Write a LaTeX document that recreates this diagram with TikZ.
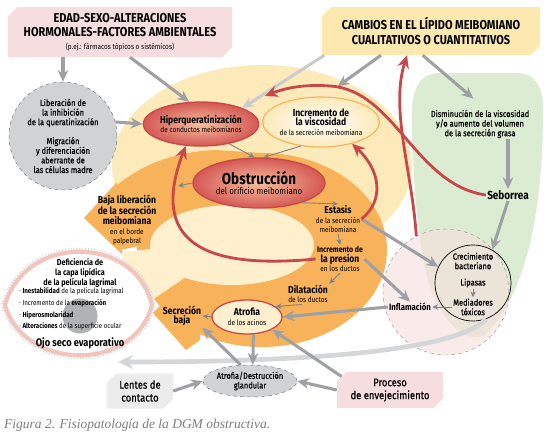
\documentclass[tikz,border=0pt]{standalone}
\usepackage{fontspec}
\setmainfont{Fira Sans}[FakeStretch=0.85]
\newfontfamily\medfont{Fira Sans}[FakeStretch=0.85,FakeBold=0.6]
\newfontfamily\capfont{Liberation Serif}
\usepackage{tikz}
\usetikzlibrary{arrows.meta,positioning,shapes.geometric,shapes.misc}

\definecolor{pinkbox}{RGB}{246,221,224}
\definecolor{yelbox}{RGB}{253,233,176}
\definecolor{paleyel}{RGB}{253,234,186}
\definecolor{innyel}{RGB}{254,240,204}
\definecolor{orng}{RGB}{247,178,90}
\definecolor{redln}{RGB}{200,72,74}
\definecolor{redout}{RGB}{212,88,84}
\definecolor{redin}{RGB}{246,192,158}
\definecolor{grayarr}{RGB}{158,160,164}
\definecolor{smallgray}{RGB}{125,132,140}
\definecolor{lightarr}{RGB}{212,214,216}
\definecolor{greenbg}{RGB}{220,236,211}
\definecolor{pinkbg}{RGB}{248,222,222}
\definecolor{graybg}{RGB}{208,210,212}
\definecolor{graybox}{RGB}{236,236,237}
\definecolor{eyepink}{RGB}{241,196,190}
\definecolor{pupilgray}{RGB}{176,178,181}
\definecolor{capgray}{RGB}{125,125,125}

% text sizes
\newcommand{\lbB}[1]{{\fontsize{8.6}{9}\selectfont\bfseries #1}}
\newcommand{\lbS}[1]{{\fontsize{6.5}{7}\selectfont #1}}
\newcommand{\lbL}[1]{{\fontsize{13.5}{14}\selectfont\bfseries #1}}
\newcommand{\lbM}[1]{{\fontsize{7}{7.5}\selectfont\bfseries #1}}
\newcommand{\lbE}[1]{{\fontsize{7.3}{8}\selectfont\bfseries #1}}
\newcommand{\lbC}[1]{{\fontsize{9.5}{10}\selectfont\medfont #1}}
\newcommand{\md}[1]{{\fontsize{7.5}{8}\selectfont\medfont #1}}
\newcommand{\hd}[1]{{\fontsize{11}{12}\selectfont\bfseries #1}}

\tikzset{
    %Define standard arrow tip
    >={Stealth[length=7pt,width=6pt]},
    % boxes with cut corners
    kasten/.style={
           chamfered rectangle,
           chamfered rectangle corners={north west,south east},
           chamfered rectangle xsep=4pt, chamfered rectangle ysep=4pt,
           inner sep=0pt, align=center},
    lbl/.style={inner sep=1pt, align=center},
    % ovals
    redoval/.style={ellipse, draw=redln, line width=1.1pt, inner color=redin, outer color=redout, inner sep=0pt, align=center},
    viscoval/.style={ellipse, draw=orng, line width=1pt, inner color=white, outer color=paleyel, inner sep=0pt, align=center},
    acioval/.style={ellipse, draw=redln, line width=1.1pt, fill=paleyel!70, inner sep=0pt, align=center},
    % arrows
    garr/.style={draw=grayarr, line width=2.6pt, -{Stealth[length=10pt,width=9pt]}},
    sarr/.style={draw=smallgray, line width=0.8pt, -{Stealth[length=5pt,width=4.5pt]}},
    rarr/.style={draw=redln, line width=2.4pt, -{Stealth[length=11pt,width=10pt]}},
    lgarr/.style={draw=lightarr, line width=4pt, -{Stealth[length=13pt,width=12pt]}},
    lashes/.style={draw=gray!28, line width=7pt, dash pattern=on 0.8pt off 1.6pt},
    eyelid/.style={draw=eyepink, line width=3.5pt}
}

\begin{document}
\begin{tikzpicture}[x=0.03cm,y=-0.03cm,font=\fontsize{7}{8.2}\selectfont]
  \useasboundingbox (0,0) rectangle (547,439);
  \fill[white] (0,0) rectangle (547,439);

  % background areas
  \fill[paleyel] (262,165) ellipse [x radius=150, y radius=100];
  \fill[greenbg] (440,73) -- (515,73) .. controls (535,73) and (543,85) .. (543,110)
     .. controls (543,200) and (530,290) .. (485,335) .. controls (465,345) and (440,320) .. (428,280)
     .. controls (418,240) and (412,180) .. (412,115) .. controls (412,88) and (420,73) .. (440,73) -- cycle;
  \node[circle, draw=gray!80, dashed, fill=pinkbg, fill opacity=0.6, minimum size=3.78cm] (inflcirc) at (446,292) {};

  % orange spiral
  \fill[orng] (262,250) ellipse [x radius=125, y radius=97];
  \fill[orng] (116,186) .. controls (140,166) and (172,152) .. (215,150) -- (262,153) -- (215,230) -- (120,250) -- cycle;
  \fill[orng] (84,218) -- (117,182) -- (122,254) -- cycle;
  \fill[innyel] (232,245) ellipse [x radius=82, y radius=40];
  \fill[innyel] (122,252) -- (170,247) -- (186,277) -- (152,300) -- (128,292) -- cycle;
  \fill[orng] (153,313) -- (186,279) -- (200,290) -- (200,340) -- (186,350) -- cycle;

  % eye
  \draw[lashes] (5,305) .. controls (25,234) and (135,234) .. (152,305) .. controls (135,372) and (25,372) .. (5,305) -- cycle;
  \fill[white] (5,305) .. controls (25,234) and (135,234) .. (152,305) .. controls (135,372) and (25,372) .. (5,305) -- cycle;
  \node[circle, fill=pupilgray, inner sep=0pt, minimum size=1.05cm] (pupila) at (80,316) {};
  \draw[eyelid] (5,305) .. controls (25,234) and (135,234) .. (152,305) .. controls (135,372) and (25,372) .. (5,305) -- cycle;

  % boxes
  \node[kasten, fill=pinkbox, minimum width=6.72cm, minimum height=1.5cm, font=\fontsize{11}{12.5}\selectfont] (edad) at (120,32)
    {\hd{EDAD-SEXO-ALTERACIONES}\\\hd{HORMONALES-FACTORES AMBIENTALES}\\[-1.5pt]\lbS{(p.ej.: fármacos tópicos o sistémicos)}};
  \node[kasten, fill=yelbox, minimum width=6.54cm, minimum height=1.44cm, font=\fontsize{11}{12.5}\selectfont] (cambios) at (431,31)
    {\hd{CAMBIOS EN EL LÍPIDO MEIBOMIANO}\\\hd{CUALITATIVOS O CUANTITATIVOS}};
  \node[circle, dashed, draw=gray!90!black, fill=graybg, minimum size=3.24cm, inner sep=0pt, align=center] (querat) at (63,136)
    {\md{Liberación de}\\\md{la inhibición}\\\md{de la queratinización}\\[8pt]\md{Migración}\\\md{y diferenciación}\\\md{aberrante de}\\\md{las células madre}};

  % ovals
  \node[redoval, minimum width=3.24cm, minimum height=1.32cm] (hiper) at (201,124)
    {\lbB{Hiperqueratinización}\\\lbS{de conductos meibomianos}};
  \node[viscoval, minimum width=3.42cm, minimum height=1.5cm] (visc) at (321,122)
    {\lbB{Incremento de}\\\lbB{la viscosidad}\\\lbS{de la secreción meibomiana}};
  \node[redoval, minimum width=3.96cm, minimum height=1.5cm] (obstr) at (259,183)
    {\lbL{Obstrucción}\\{\fontsize{8}{9}\selectfont del orificio meibomiano}};
  \node[acioval, minimum width=2.1cm, minimum height=1.02cm] (atrof) at (247,317)
    {\lbB{Atrofia}\\\lbS{de los acinos}};
  \node[circle, draw=black, line width=0.6pt, minimum size=2.28cm] (crec) at (473,283) {};

  % labels
  \node[lbl] (bajalib) at (127,220) {\lbB{Baja liberación}\\\lbB{de la secreción}\\\lbB{meibomiana}\\\lbS{en el borde}\\\lbS{palpebral}};
  \node[lbl] (secbaja) at (182,316) {\lbB{Secreción}\\\lbB{baja}};
  \node[lbl] (estasis) at (338,219) {\lbB{Estasis}\\\lbS{de la secreción}\\\lbS{meibomiana}};
  \node[lbl] (presion) at (340,259) {\lbM{Incremento de}\\\lbB{la presion}\\\lbS{en los ductos}};
  \node[lbl] (dilat) at (308,294) {\lbB{Dilatación}\\\lbS{de los ductos}};
  \node[lbl] (dismin) at (480,124) {\md{Disminución de la viscosidad}\\\md{y/o aumento del volumen}\\\md{de la secreción grasa}};
  \node[lbl] (seborrea) at (508,195) {{\fontsize{10}{11}\selectfont\bfseries Seborrea}};
  \node[lbl] (inflam) at (410,307) {{\fontsize{7.8}{8}\selectfont\bfseries Inflamación}};
  \node[lbl] (crect) at (473,261) {\md{Crecimiento}\\\md{bacteriano}};
  \node[lbl] (lipasas) at (473,283) {\md{Lipasas}};
  \node[lbl] (mediad) at (473,307) {\md{Mediadores}\\\md{tóxicos}};

  % eye texts
  \node[lbl] (defic) at (80,273) {\lbE{Deficiencia de}\\\lbE{la capa lipídica}\\\lbE{de la película lagrimal}};
  \node[lbl, align=left, anchor=west, font=\fontsize{6.2}{10}\selectfont] (signos) at (18,309)
    {· \textbf{Inestabilidad} de la película lagrimal\\· Incremento de la \textbf{evaporación}\\· \textbf{Hiperosmolaridad}\\· \textbf{Alteraciones} de la superficie ocular};
  \node[lbl] (ojo) at (80,343) {{\fontsize{9.3}{10}\selectfont\bfseries Ojo seco evaporativo}};

  % bottom row
  \node[kasten, fill=graybox, minimum width=1.98cm, minimum height=1.05cm, font=\fontsize{9.5}{11}\selectfont] (lentes) at (140,391) {\lbC{Lentes de}\\\lbC{contacto}};
  \node[ellipse, dashed, draw=gray!90!black, fill=graybg, minimum width=2.82cm, minimum height=0.96cm, inner sep=0pt, align=center] (destr) at (250,381)
    {\md{Atrofia/Destrucción}\\\md{glandular}};
  \node[kasten, fill=pinkbox, minimum width=3.18cm, minimum height=1.08cm, font=\fontsize{9.5}{11}\selectfont] (proceso) at (390,390) {\lbC{Proceso}\\\lbC{de envejecimiento}};

  \coordinate (ojotip) at (118,362);
  \coordinate (bajaend) at (178,186);
  \coordinate (rtip) at (265,96);

  % big light arrow to the eye
  \draw[lgarr] (crec.-70) .. controls (455,352) and (300,362) .. (ojotip);

  % grey arrows
  \draw[garr] (edad.south -| querat) -- (querat.north);
  \draw[garr] (querat.15) -- (hiper.west);
  \draw[garr] ([xshift=0.3cm]edad.south) -- (hiper.118);
  \draw[garr, draw=lightarr!80!grayarr] ([xshift=-3.2cm]cambios.south) -- (hiper.north east);
  \draw[garr] ([xshift=-1.5cm]cambios.south) -- ([xshift=0.5cm,yshift=0.3cm]visc.north);
  \draw[garr] ([xshift=-0.25cm]cambios.south) -- ([xshift=-0.2cm,yshift=0.3cm]dismin.north);
  \draw[garr] (dismin.south -| seborrea) -- (seborrea.north);
  \draw[garr] (seborrea.south) -- (crec.60);
  \draw[garr] (estasis.east) -- (crec.155);
  \draw[garr] (presion.east) -- (inflam.north);
  \draw[garr] (inflam.west) -- (atrof.east);
  \draw[garr] (proceso.north west) -- (atrof.south east);
  \draw[garr] (proceso.west) -- (destr.east);
  \draw[garr] (lentes.east) -- (destr.west);
  \draw[garr] (destr.120) -- (secbaja.south east);
  \draw[garr] (atrof.-70) -- (destr.80);

  % small arrows
  \draw[sarr] (hiper.-35) -- (obstr.100);
  \draw[sarr] (visc.-130) -- (obstr.80);
  \draw[sarr] (obstr.west) -- (bajaend);
  \draw[sarr] (obstr.-25) -- (estasis.north);
  \draw[sarr] (estasis.south) -- (presion.north);
  \draw[sarr] (presion.south) -- (dilat.north east);
  \draw[sarr] (dilat.-120) -- (atrof.20);
  \draw[sarr] (atrof.west) -- (secbaja.east);
  \draw[sarr] (lipasas.south) -- (mediad.north);
  \draw[sarr] (mediad.west) -- (inflam.east);

  % red feedback arrows
  \draw[rarr] (presion.west) .. controls (200,270) and (150,240) .. (hiper.-125);
  \draw[rarr] (estasis.east) .. controls (385,200) and (380,170) .. (visc.-35);
  \draw[rarr] (seborrea.west) .. controls (415,185) and (395,90) .. (330,86) .. controls (305,84) and (285,88) .. (rtip);
  \draw[rarr] (inflcirc.118) .. controls (412,170) and (390,110) .. ([xshift=-0.72cm]cambios.south);

  % caption
  \node[anchor=west, inner sep=0pt, text=capgray, font=\capfont\itshape\fontsize{11.5}{12}\selectfont] (caption) at (4,425)
    {Figura 2. Fisiopatología de la DGM obstructiva.};
\end{tikzpicture}
\end{document}
